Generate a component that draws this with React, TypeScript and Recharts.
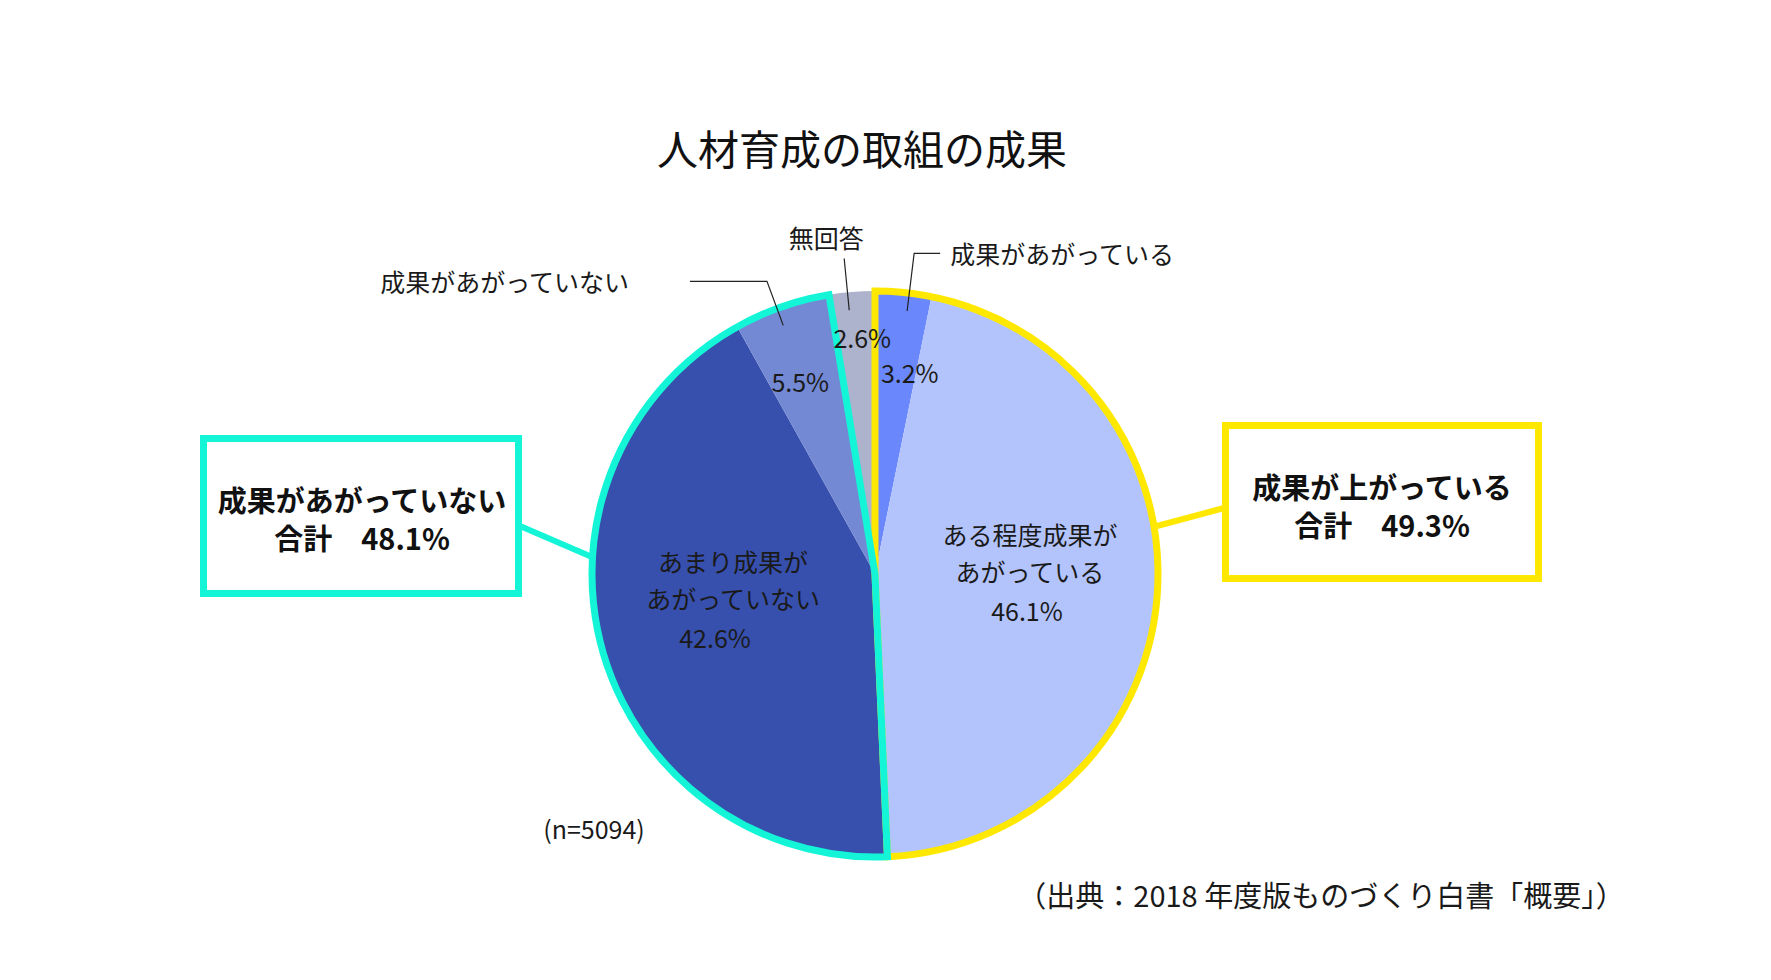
import { Cell, Pie, PieChart } from 'recharts'

const SEGMENTS = ['成果があがっている', 'ある程度成果があがっている', 'あまり成果があがっていない', '成果があがっていない', '無回答']
const SHARES = [3.2, 46.1, 42.6, 5.5, 2.6]
const SEGMENT_GROUP = [0, 0, 1, 1, 2]
const GROUPS = ['成果が上がっている', '成果があがっていない', '無回答']
const INNER_LINES: string[][] = [[], ['ある程度成果が', 'あがっている'], ['あまり成果が', 'あがっていない'], [], []]
const OUTSIDE_NAMES = ['成果があがっている', '', '', '成果があがっていない', '無回答']
const TITLE = '人材育成の取組の成果'
const SAMPLE = '(n=5094)'
const SOURCE = '（出典：2018 年度版ものづくり白書「概要」）'

const SLICE_COLORS = ['#6a88fc', '#b3c4fc', '#3750ad', '#7389d3', '#adb3cc']
const GROUP_STROKES = ['#ffe800', '#14f5d8', 'none']

const FONT = '"Noto Sans CJK JP", "Noto Sans", sans-serif'
const TEXT_COLOR = '#1a1a1a'
const RADIAN = Math.PI / 180

const sliceData = SEGMENTS.map((name, i) => ({ name, value: SHARES[i] }))
const groupData = GROUPS.map((name, g) => ({
  name,
  value: Number(SHARES.filter((_, i) => SEGMENT_GROUP[i] === g).reduce((a, b) => a + b, 0).toFixed(1)),
}))

// where each label sits relative to its slice (radius in px, angle nudge in degrees)
const LABEL_POS = [
  { r: 205, shift: -4, pctDx: 0 },
  { r: 155, shift: 5.6, pctDx: -3 },
  { r: 144, shift: -6.2, pctDx: -18 },
  { r: 207, shift: 1.9, pctDx: 0 },
  { r: 237, shift: -1.6, pctDx: 0 },
]

const LEADERS: Record<number, { shift: number; out: number; run: number }> = {
  0: { shift: -1.2, out: 40, run: 26 },
  3: { shift: 1, out: 29, run: -77 },
  4: { shift: 0.9, out: 34, run: 0 },
}

function polar(cx: number, cy: number, r: number, angle: number) {
  return { x: cx + r * Math.cos(-angle * RADIAN), y: cy + r * Math.sin(-angle * RADIAN) }
}

interface LabelProps {
  cx: number
  cy: number
  midAngle: number
  outerRadius: number
  index: number
}

function renderLabel({ cx, cy, midAngle, outerRadius, index }: LabelProps) {
  const pos = LABEL_POS[index]
  const p = polar(cx, cy, pos.r, midAngle + pos.shift)
  const pct = `${SHARES[index].toFixed(1)}%`
  const lines = INNER_LINES[index]
  const textProps = { fill: TEXT_COLOR, fontSize: 25, fontFamily: FONT, textAnchor: 'middle' as const, dominantBaseline: 'central' as const }

  let leader = null
  const ld = LEADERS[index]
  if (ld) {
    const a = midAngle + ld.shift
    const p0 = polar(cx, cy, outerRadius - 18, a)
    const p1 = polar(cx, cy, outerRadius + ld.out, a)
    const p2 = { x: p1.x + ld.run, y: p1.y }
    const name = OUTSIDE_NAMES[index]
    let nameEl
    if (ld.run === 0) {
      nameEl = <text {...textProps} x={p1.x - 18} y={p1.y - 22}>{name}</text>
    } else {
      const dir = ld.run > 0 ? 1 : -1
      nameEl = (
        <text {...textProps} textAnchor={dir > 0 ? 'start' : 'end'} x={p2.x + dir * (dir > 0 ? 10 : 61)} y={p2.y}>
          {name}
        </text>
      )
    }
    leader = (
      <g>
        <polyline points={`${p0.x},${p0.y} ${p1.x},${p1.y} ${p2.x},${p2.y}`} fill="none" stroke="#222" strokeWidth={1.2} />
        {nameEl}
      </g>
    )
  }

  if (lines.length) {
    return (
      <g>
        <text {...textProps} x={p.x} y={p.y - 37}>{lines[0]}</text>
        <text {...textProps} x={p.x} y={p.y}>{lines[1]}</text>
        <text {...textProps} x={p.x + pos.pctDx} y={p.y + 39}>{pct}</text>
      </g>
    )
  }
  return (
    <g>
      {leader}
      <text {...textProps} x={p.x} y={p.y}>{pct}</text>
    </g>
  )
}

export default function App() {
  const cx = 875
  const cy = 574
  const R = 283
  const boxText = { fontFamily: FONT, fontSize: 29, fontWeight: 700, fill: '#111', textAnchor: 'middle' as const, dominantBaseline: 'central' as const }

  return (
    <div style={{ position: 'absolute', left: 0, top: 0, width: 1771, height: 980, background: '#fff' }}>
      <PieChart width={1771} height={980} margin={{ top: 0, right: 0, bottom: 0, left: 0 }}>
        <Pie
          data={sliceData}
          dataKey="value"
          nameKey="name"
          cx={cx}
          cy={cy}
          outerRadius={R}
          startAngle={90}
          endAngle={-270}
          stroke="none"
          labelLine={false}
          label={renderLabel as unknown as boolean}
          isAnimationActive={false}
        >
          {sliceData.map((d, i) => (
            <Cell key={d.name} fill={SLICE_COLORS[i]} stroke="none" />
          ))}
        </Pie>
        <Pie
          data={groupData}
          dataKey="value"
          nameKey="name"
          cx={cx}
          cy={cy}
          outerRadius={R}
          startAngle={90}
          endAngle={-270}
          fill="none"
          labelLine={false}
          isAnimationActive={false}
        >
          {groupData.map((d, i) => (
            <Cell key={d.name} fill="none" stroke={GROUP_STROKES[i]} strokeWidth={7} strokeLinejoin="miter" />
          ))}
        </Pie>
      </PieChart>

      <svg width={1771} height={980} style={{ position: 'absolute', left: 0, top: 0, pointerEvents: 'none' }}>
        <text x={862} y={147} fontFamily={FONT} fontSize={41} fill="#111" textAnchor="middle" dominantBaseline="central">
          {TITLE}
        </text>

        {/* 成果があがっていない 合計 */}
        <line x1={520} y1={526} x2={592} y2={557} stroke={GROUP_STROKES[1]} strokeWidth={6} />
        <rect x={203.5} y={438.5} width={315} height={155} fill="#fff" stroke={GROUP_STROKES[1]} strokeWidth={7} />
        <text {...boxText} x={362} y={499}>{GROUPS[1]}</text>
        <text {...boxText} x={362} y={537}>{`合計\u3000${groupData[1].value.toFixed(1)}%`}</text>

        {/* 成果が上がっている 合計 */}
        <line x1={1157} y1={526} x2={1224} y2={508} stroke={GROUP_STROKES[0]} strokeWidth={6} />
        <rect x={1225.5} y={425.5} width={313} height={153} fill="#fff" stroke={GROUP_STROKES[0]} strokeWidth={7} />
        <text {...boxText} x={1382} y={486}>{GROUPS[0]}</text>
        <text {...boxText} x={1382} y={524}>{`合計\u3000${groupData[0].value.toFixed(1)}%`}</text>

        <text x={594} y={828} fontFamily={FONT} fontSize={25} fill={TEXT_COLOR} textAnchor="middle" dominantBaseline="central">
          {SAMPLE}
        </text>
        <text x={1321} y={894} fontFamily={FONT} fontSize={29} fill={TEXT_COLOR} textAnchor="middle" dominantBaseline="central">
          {SOURCE}
        </text>
      </svg>
    </div>
  )
}
